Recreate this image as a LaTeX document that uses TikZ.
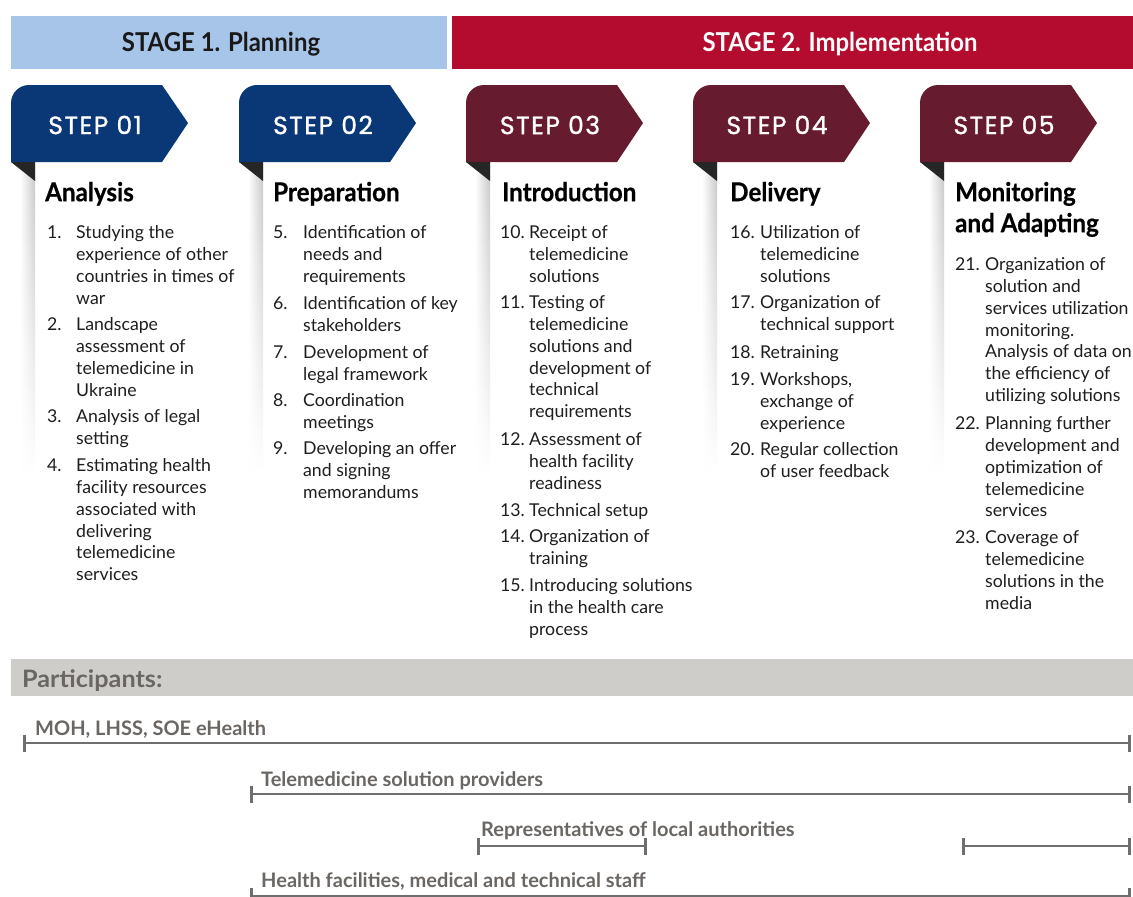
\documentclass[tikz,border=0pt]{standalone}
\usepackage{fontspec}
\setmainfont{Lato}
\newfontfamily\stepfont[LetterSpace=6,FakeBold=1.2]{Poppins}
\newfontfamily\stagefont[FakeStretch=0.92]{Lato}
\newfontfamily\titlefont[FakeStretch=0.93,FakeBold=0.6]{Lato}
\newfontfamily\partfont{Lato}
\newfontfamily\bandfont[FakeStretch=1.05]{Lato}
\usetikzlibrary{fadings,arrows.meta}

\definecolor{stageA}{HTML}{A7C5E9}
\definecolor{stageB}{HTML}{B40C2F}
\definecolor{tabBlue}{HTML}{0A3876}
\definecolor{tabRed}{HTML}{671B2F}
\definecolor{foldGrey}{HTML}{262626}
\definecolor{bandGrey}{HTML}{CFCDCA}
\definecolor{partText}{HTML}{6A6663}
\definecolor{partLine}{HTML}{6E6E6E}
\definecolor{bodyText}{HTML}{1E1E1E}

\tikzset{
  stagelabel/.style={inner sep=0, font=\stagefont\bfseries\fontsize{26}{30}\selectfont},
  steplabel/.style={inner sep=0, text=white, font=\stepfont\fontsize{25}{28}\selectfont},
  titletext/.style={inner sep=0, anchor=north west, align=left, text=black,
    font=\titlefont\bfseries\fontsize{26}{31}\selectfont},
  itemnum/.style={inner sep=0, anchor=north west, text=bodyText,
    font=\fontsize{17.7}{21.8}\selectfont},
  itemtxt/.style={inner sep=0, anchor=north west, align=left, text=bodyText,
    font=\fontsize{17.7}{21.8}\selectfont},
  parttext/.style={inner sep=0, anchor=base west, text=partText,
    font=\partfont\bfseries\fontsize{20}{22}\selectfont},
  partbar/.style={draw=partLine, line width=2.6pt,
    {Bar[width=17pt,line width=2.6pt]}-{Bar[width=17pt,line width=2.6pt]}},
  cardshadow/.style={left color=white, right color=black!22, path fading=south}
}

% step tab with its folded corner and the soft shadow of the card below it
\newcommand\steptab[4]{%
  \shade[cardshadow] (#1+9,162) rectangle (#1+24,470);
  \fill[#2] (#1,162) -- (#1,103) arc[start angle=180,end angle=270,radius=18]
    -- (#1+151,85) -- (#1+177,123) -- (#1+151,162) -- cycle;
  \fill[foldGrey] (#1,162) -- (#1+24,162) -- (#1+24,181) -- cycle;
  \node[steplabel] (#4) at (#1+84,125) {#3};
}

% numbered list entry: number x, text x, centre of first line, number, text
\newcommand\numitem[5]{%
  \node[itemnum] (n#4) at (#1,#3-8.5) {\rule{0pt}{14pt}#4.};
  \node[itemtxt] (t#4) at (#2,#3-8.5) {\rule{0pt}{14pt}#5};
}

\begin{document}
\begin{tikzpicture}[x=1pt,y=-1pt]
\useasboundingbox (0,0) rectangle (1133,897);
\fill[white] (0,0) rectangle (1133,897);

% stage bands
\fill[stageA] (11,16) rectangle (447,69);
\fill[stageB] (452,16) rectangle (1133,69);
\node[stagelabel, text=black!90] (stage1) at (221,44) {STAGE 1. Planning};
\node[stagelabel, text=white] (stage2) at (840,44) {STAGE 2. Implementation};

% step tabs
\steptab{11}{tabBlue}{STEP 01}{step1}
\steptab{239}{tabBlue}{STEP 02}{step2}
\steptab{466}{tabRed}{STEP 03}{step3}
\steptab{693}{tabRed}{STEP 04}{step4}
\steptab{920}{tabRed}{STEP 05}{step5}

% column titles
\node[titletext] (title1) at (45,181) {\rule{0pt}{20pt}Analysis};
\node[titletext] (title2) at (273,181) {\rule{0pt}{20pt}Preparation};
\node[titletext] (title3) at (502,181) {\rule{0pt}{20pt}Introduction};
\node[titletext] (title4) at (730,181) {\rule{0pt}{20pt}Delivery};
\node[titletext] (title5) at (955,181) {\rule{0pt}{20pt}Monitoring\\and Adapting};

% step 01
\numitem{47}{76}{233}{1}{Studying the\\experience of other\\countries in times of\\war}
\numitem{47}{76}{325}{2}{Landscape\\assessment of\\telemedicine in\\Ukraine}
\numitem{47}{76}{417}{3}{Analysis of legal\\setting}
\numitem{47}{76}{466}{4}{Estimating health\\facility resources\\associated with\\delivering\\telemedicine\\services}

% step 02
\numitem{273}{303}{233}{5}{Identification of\\needs and\\requirements}
\numitem{273}{303}{304}{6}{Identification of key\\stakeholders}
\numitem{273}{303}{353}{7}{Development of\\legal framework}
\numitem{273}{303}{401}{8}{Coordination\\meetings}
\numitem{273}{303}{449}{9}{Developing an offer\\and signing\\memorandums}

% step 03
\numitem{500}{529}{233}{10}{Receipt of\\telemedicine\\solutions}
\numitem{500}{529}{303}{11}{Testing of\\telemedicine\\solutions and\\development of\\technical\\requirements}
\numitem{500}{529}{440}{12}{Assessment of\\health facility\\readiness}
\numitem{500}{529}{511}{13}{Technical setup}
\numitem{500}{529}{537}{14}{Organization of\\training}
\numitem{500}{529}{586}{15}{Introducing solutions\\in the health care\\process}

% step 04
\numitem{730}{760}{233}{16}{Utilization of\\telemedicine\\solutions}
\numitem{730}{760}{303}{17}{Organization of\\technical support}
\numitem{730}{760}{353}{18}{Retraining}
\numitem{730}{760}{380}{19}{Workshops,\\exchange of\\experience}
\numitem{730}{760}{450}{20}{Regular collection\\of user feedback}

% step 05
\numitem{955}{985}{265}{21}{Organization of\\solution and\\services utilization\\monitoring.\\Analysis of data on\\the efficiency of\\utilizing solutions}
\numitem{955}{985}{424}{22}{Planning further\\development and\\optimization of\\telemedicine\\services}
\numitem{955}{985}{538}{23}{Coverage of\\telemedicine\\solutions in the\\media}

% participants
\fill[bandGrey] (11,659) rectangle (1133,696);
\node[inner sep=0, anchor=base west, text=partText,
  font=\bandfont\bfseries\fontsize{24}{26}\selectfont] (parts) at (22,687) {Participants:};

\node[parttext] (p1) at (35,735) {MOH, LHSS, SOE eHealth};
\coordinate (p1a) at (23,743);
\coordinate (p1b) at (1131,743);
\draw[partbar] (p1a) -- (p1b);

\node[parttext] (p2) at (261,786) {Telemedicine solution providers};
\coordinate (p2a) at (250,794);
\coordinate (p2b) at (1131,794);
\draw[partbar] (p2a) -- (p2b);

\node[parttext] (p3) at (481,836) {Representatives of local authorities};
\coordinate (p3a) at (477,846);
\coordinate (p3b) at (647,846);
\coordinate (p3c) at (962,846);
\coordinate (p3d) at (1131,846);
\draw[partbar] (p3a) -- (p3b);
\draw[partbar] (p3c) -- (p3d);

\node[parttext] (p4) at (261,887) {Health facilities, medical and technical staff};
\coordinate (p4a) at (250,896);
\coordinate (p4b) at (1131,896);
\draw[partbar] (p4a) -- (p4b);
\end{tikzpicture}
\end{document}
